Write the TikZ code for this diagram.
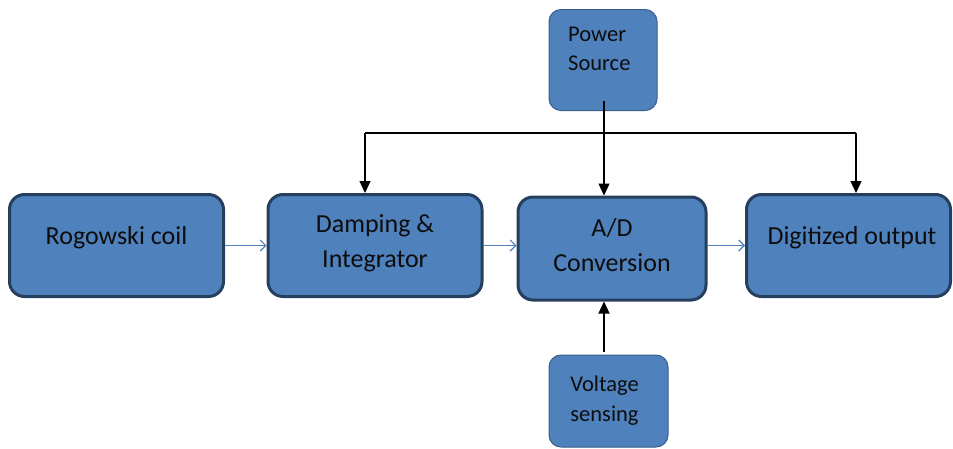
\documentclass[tikz,border=0pt]{standalone}
\usepackage{fontspec}
\setmainfont{Carlito}
\usetikzlibrary{arrows.meta,positioning}

\definecolor{boxfill}{HTML}{4F81BD}
\definecolor{boxline}{HTML}{263F5E}
\definecolor{smallline}{HTML}{385D8A}
\definecolor{textcol}{HTML}{0D0D0D}

\tikzset{
  bigbox/.style={draw=boxline, line width=3pt, fill=boxfill, rounded corners=15pt,
    inner sep=0pt, minimum width=#1, minimum height=102pt},
  smallbox/.style={draw=smallline, line width=1pt, fill=boxfill, rounded corners=12pt,
    inner sep=0pt},
  bigtxt/.style={text=textcol, font=\fontsize{26}{35}\selectfont, align=center, inner sep=0pt},
  smalltxt/.style={text=textcol, font=\fontsize{22.5}{29}\selectfont, inner sep=0pt},
  flow/.style={draw=boxfill, line width=1.1pt, -{Straight Barb[length=5.5pt,width=11pt]}},
  feed/.style={draw=black, line width=1.2pt, -{Triangle[length=12pt,width=11pt]}},
  bus/.style={draw=black, line width=1.2pt},
}

\begin{document}
\begin{tikzpicture}[x=1pt,y=-1pt]
\useasboundingbox (0,0) rectangle (953,448);

% main chain of blocks
\node[bigbox=214pt] (rog) at (116.5,245.5) {};
\node[bigbox=214pt] (dmp) at (375,245.5) {};
\node[bigbox=188pt, minimum height=103pt] (ad) at (612,248.5) {};
\node[bigbox=204pt] (dig) at (848.5,245.5) {};

% supply and sensing blocks
\node[smallbox, minimum width=108pt, minimum height=101pt] (ps) at (603,60) {};
\node[smallbox, minimum width=119pt, minimum height=92pt] (vs) at (608.5,401) {};

% block captions
\node[bigtxt] (trog) at (116.5,237.5) {Rogowski coil};
\node[bigtxt] (tdmp) at (375,243) {Damping \&\\Integrator};
\node[bigtxt] (tad) at (612,245.5) {A/D\\Conversion};
\node[bigtxt] (tdig) at (852,237.5) {Digitized output};
\node[smalltxt, align=left, anchor=west] (tps) at (568,48.5) {Power\\Source};
\node[smalltxt, align=center, font=\fontsize{22.5}{30}\selectfont] (tvs) at (604.5,400.5) {Voltage\\sensing};

% signal path
\draw[flow] (rog.east) -- (dmp.west);
\draw[flow] (dmp.east) -- (dmp.east -| ad.west);
\draw[flow] ([yshift=3pt]ad.east) -- ([yshift=3pt]ad.east -| dig.west);

% power distribution bus
\coordinate (busL) at (365,133);
\coordinate (busR) at (856,133);
\draw[bus] (busL) -- (busR);
\draw[feed] (busL) -- (busL |- dmp.north);
\draw[feed] (busR) -- (busR |- dig.north);
\draw[feed] ([yshift=10pt,xshift=1pt]ps.south) -- ([xshift=1pt]ps.south |- ad.north);

% voltage sensing input
\draw[feed] ([xshift=-4.5pt,yshift=3pt]vs.north) -- ([xshift=-4.5pt]vs.north |- ad.south);
\end{tikzpicture}
\end{document}
